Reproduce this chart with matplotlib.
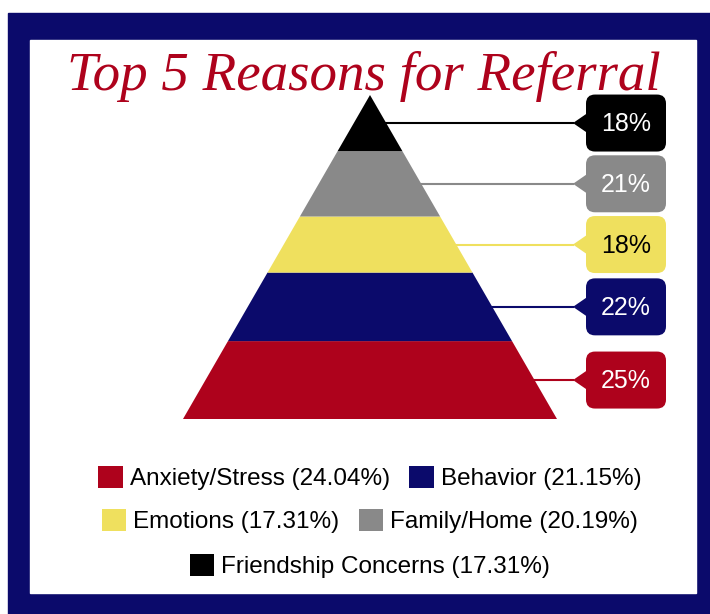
import numpy as np
import matplotlib
matplotlib.use('Agg')
import matplotlib.pyplot as plt
from matplotlib.patches import Polygon, Rectangle, FancyBboxPatch, Patch

# data, bottom layer first
categories = ['Anxiety/Stress', 'Behavior', 'Emotions', 'Family/Home', 'Friendship Concerns']
shares = [24.04, 21.15, 17.31, 20.19, 17.31]
box_labels = ['25%', '22%', '18%', '21%', '18%']
colors = ['#AE021C', '#0B0A6B', '#EFE05E', '#898989', '#000000']
text_colors = ['white', 'white', 'black', 'white', 'white']
title = 'Top 5 Reasons for Referral'

navy = '#0B0A6B'
plt.rcParams['font.family'] = ['Liberation Sans', 'DejaVu Sans']

W, H = 710, 614
fig = plt.figure(figsize=(W / 100, H / 100), dpi=100)
ax = fig.add_axes([0, 0, 1, 1])
ax.set_xlim(0, W)
ax.set_ylim(H, 0)
ax.axis('off')

# frame
ax.add_patch(Rectangle((8, 13), W - 8, H - 13, color=navy, zorder=0))
ax.add_patch(Rectangle((30, 40), 666, 553, color='white', zorder=1))

# title, sized to span about 593 px like the reference
t = ax.text(364, 90, title, ha='center', va='baseline', fontsize=40,
            color='#AE021C', family='Liberation Serif', style='italic', zorder=5)
r = fig.canvas.get_renderer()
tw = t.get_window_extent(renderer=r).width
t.set_fontsize(40 * 593 / tw)

# pyramid geometry
apex_x, apex_y = 370, 95
base_y = 419
half_base = 187
total_h = base_y - apex_y

def half_w(y):
    return half_base * (y - apex_y) / total_h

frac = np.array(shares) / sum(shares)
tops = base_y - np.cumsum(frac) * total_h
bottoms = tops + frac * total_h

tip_x = 573
box_x0, box_w, box_h = 586, 80, 57

for i in range(len(categories)):
    y0, y1 = tops[i], bottoms[i]
    pts = [(apex_x - half_w(y1), y1), (apex_x + half_w(y1), y1),
           (apex_x + half_w(y0), y0), (apex_x - half_w(y0), y0)]
    ax.add_patch(Polygon(pts, closed=True, facecolor=colors[i], edgecolor='none', zorder=3))

    ym = (y0 + y1) / 2
    ax.plot([apex_x + half_w(ym), tip_x], [ym, ym], color=colors[i], lw=1.5, zorder=3)
    ax.add_patch(Polygon([(tip_x, ym), (box_x0 + 3, ym - 11), (box_x0 + 3, ym + 11)],
                         closed=True, facecolor=colors[i], edgecolor='none', zorder=4))
    ax.add_patch(FancyBboxPatch((box_x0, ym - box_h / 2), box_w, box_h,
                                boxstyle='round,pad=0,rounding_size=9',
                                facecolor=colors[i], edgecolor='none', zorder=4))
    ax.text(box_x0 + box_w / 2, ym + 1, box_labels[i], ha='center', va='center',
            fontsize=18, color=text_colors[i], zorder=5)

# legend rows: 2, 2, 1
handles = [Patch(facecolor=c, edgecolor='none') for c in colors]
labels = ['%s (%.2f%%)' % (c, s) for c, s in zip(categories, shares)]
rows = [[0, 1], [2, 3], [4]]
row_y = [478, 521, 566]
for rw, y in zip(rows, row_y):
    fig.legend([handles[k] for k in rw], [labels[k] for k in rw], ncol=len(rw),
               loc='center', bbox_to_anchor=(370 / W, 1 - y / H),
               frameon=False, fontsize=17.5, handlelength=1.0, handleheight=1.0,
               handletextpad=0.3, columnspacing=0.8, borderpad=0, borderaxespad=0)

fig.savefig('out.png', dpi=100, facecolor='white')
